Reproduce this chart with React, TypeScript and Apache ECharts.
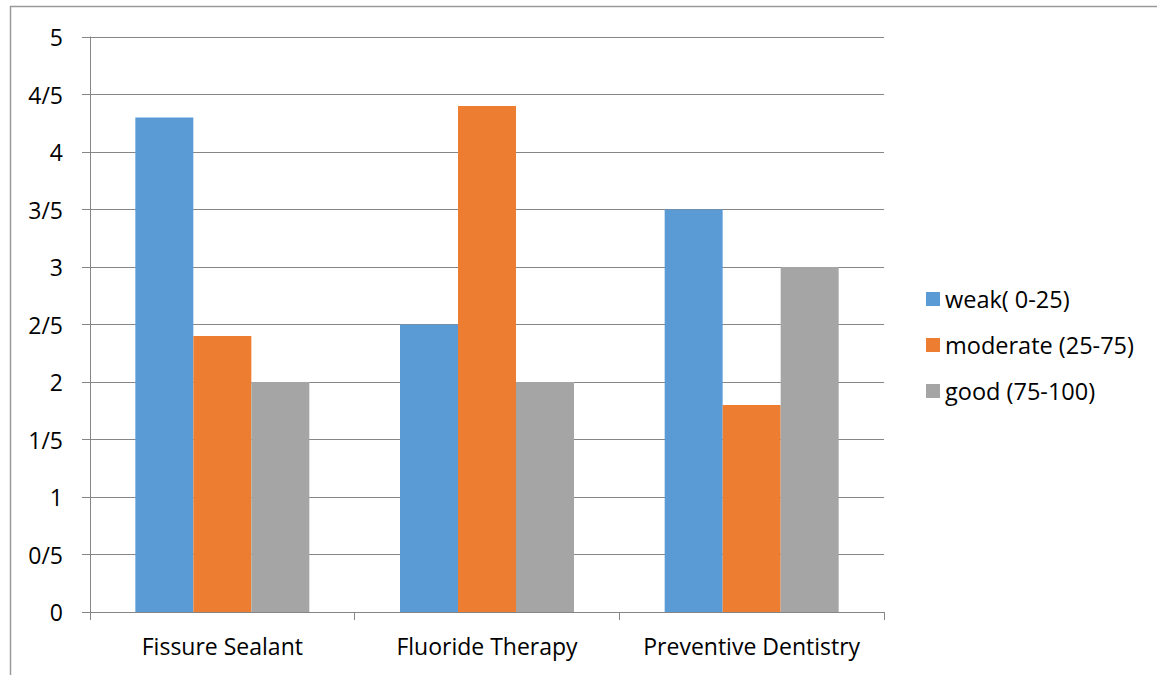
import React, { useEffect, useRef } from "react";
import * as echarts from "echarts";

const categories = ["Fissure Sealant", "Fluoride Therapy", "Preventive Dentistry"];
const weak = [4.3, 2.5, 3.5];
const moderate = [2.4, 4.4, 1.8];
const good = [2.0, 2.0, 3.0];
const seriesNames = ["weak( 0-25)", "moderate (25-75)", "good (75-100)"];
const colors = ["#5B9BD5", "#ED7D31", "#A5A5A5"];
const fmt = (v: number) => String(v).replace(".", "/");

export default function App() {
  const ref = useRef<HTMLDivElement>(null);
  useEffect(() => {
    const chart = echarts.init(ref.current!, null, { renderer: "svg" });
    const font = "'Open Sans', 'Noto Sans', sans-serif";
    chart.setOption({
      animation: false,
      textStyle: { fontFamily: font },
      graphic: [
        {
          type: "rect",
          shape: { x: 10.5, y: 6.5, width: 1300, height: 800 },
          style: { fill: "none", stroke: "#9a9a9a", lineWidth: 1.5 },
          silent: true,
        },
      ],
      grid: { left: 90, right: 273, top: 37, bottom: 63 },
      legend: {
        orient: "vertical",
        left: 921,
        top: 282,
        itemWidth: 14,
        itemHeight: 14,
        itemGap: 22,
        icon: "rect",
        textStyle: { fontSize: 23.5, color: "#000", fontFamily: font },
        data: seriesNames,
      },
      xAxis: {
        type: "category",
        data: categories,
        axisLine: { lineStyle: { color: "#868686", width: 1 } },
        axisTick: { show: true, length: 8, lineStyle: { color: "#868686" } },
        axisLabel: { color: "#000", fontSize: 23, margin: 22, fontFamily: font, interval: 0, hideOverlap: false },
      },
      yAxis: {
        type: "value",
        min: 0,
        max: 5,
        interval: 0.5,
        axisLine: { show: true, lineStyle: { color: "#868686" } },
        axisTick: { show: true, length: 8, lineStyle: { color: "#868686" } },
        splitLine: { lineStyle: { color: "#868686", width: 1 } },
        axisLabel: { color: "#000", fontSize: 23, margin: 27, formatter: fmt, fontFamily: font },
      },
      series: [weak, moderate, good].map((d, i) => ({
        name: seriesNames[i],
        type: "bar",
        data: d,
        barWidth: 58,
        barGap: "0%",
        itemStyle: { color: colors[i] },
      })),
    });
    return () => chart.dispose();
  }, []);
  return (
    <div
      ref={ref}
      style={{ position: "absolute", left: 0, top: 0, width: 1157, height: 675, background: "#fff" }}
    />
  );
}
